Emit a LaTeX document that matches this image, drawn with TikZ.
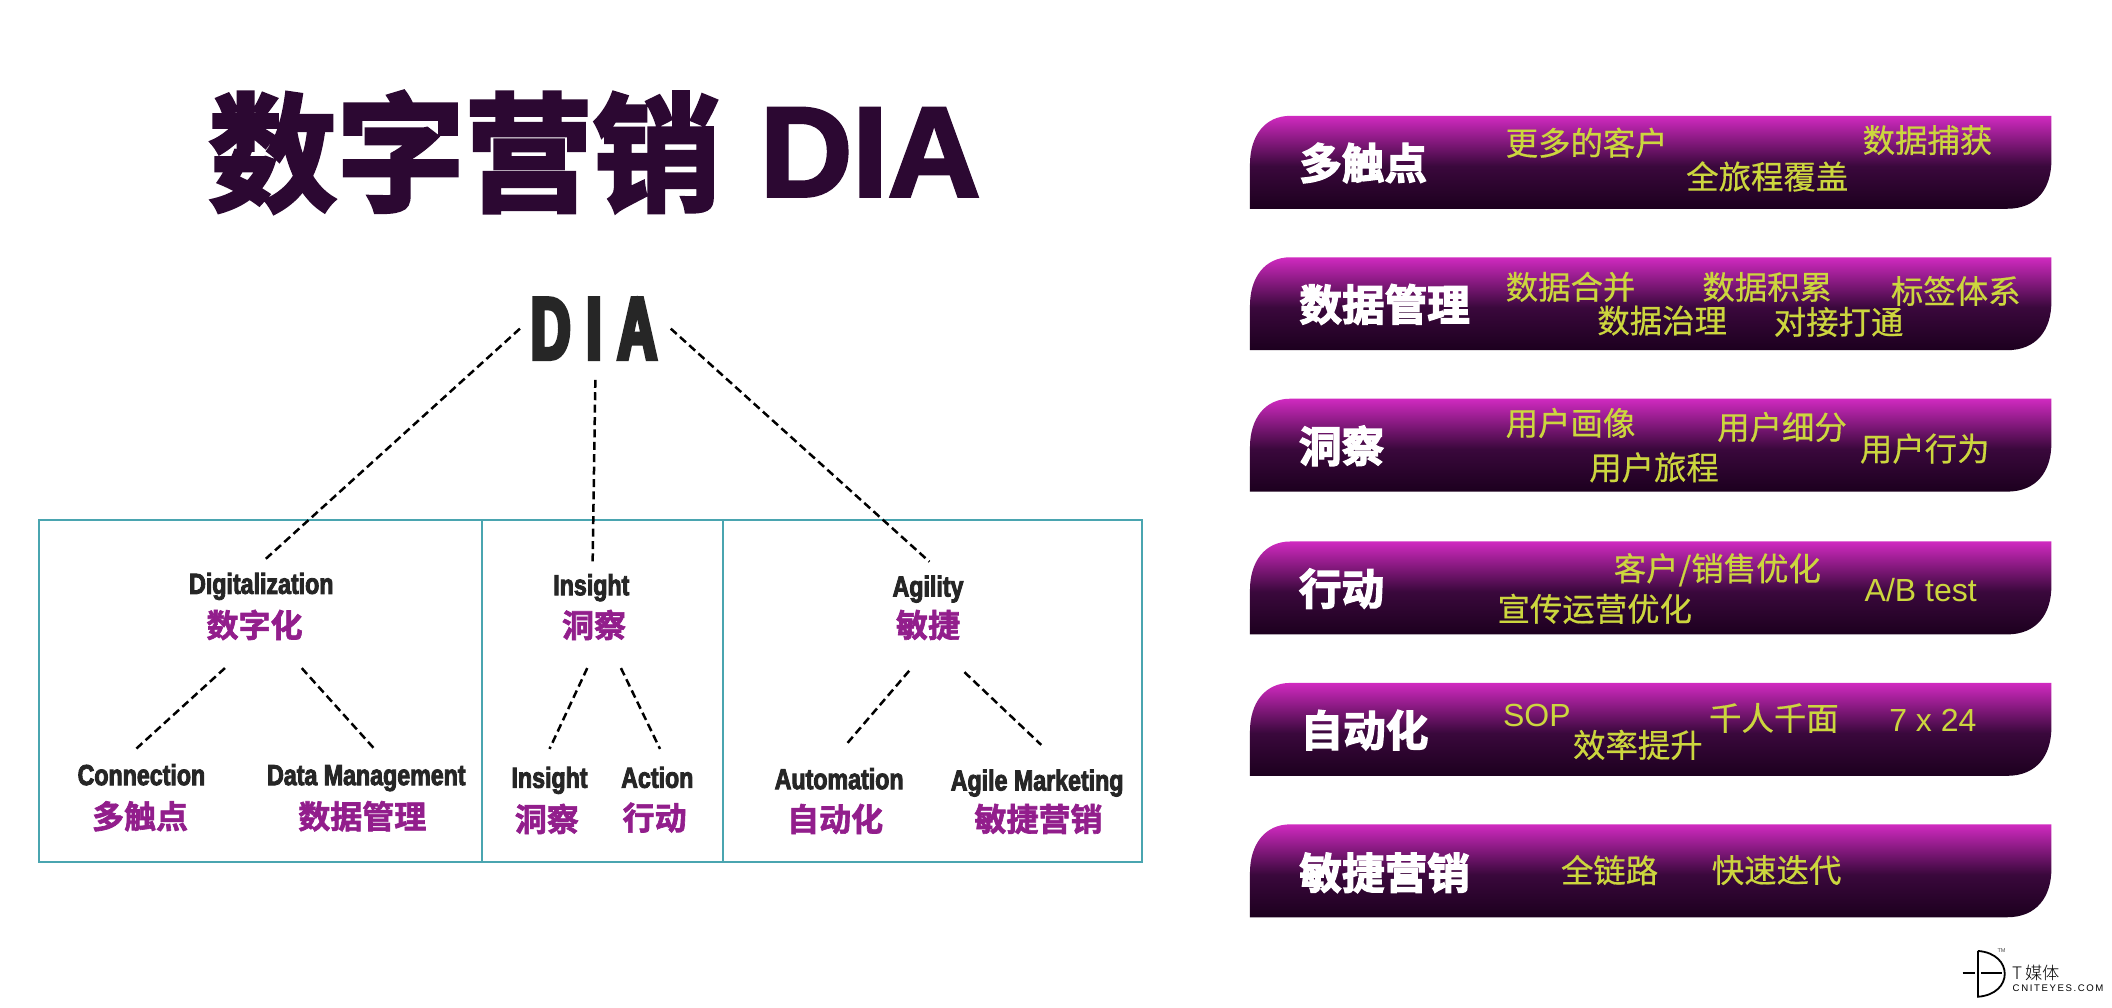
\documentclass[tikz,border=0pt]{standalone}
\usepackage{fontspec}
\newfontfamily\cjkreg[FakeBold=0.5]{Noto Sans CJK SC}
\newfontfamily\cjkthin{Noto Sans CJK SC Light}
\newfontfamily\cjkbold[FakeBold=2]{Noto Sans CJK SC Bold}
\newfontfamily\cjkheavy[FakeBold=3]{Noto Sans CJK SC Bold}
\newfontfamily\latinbold[FakeBold=2.5]{Liberation Sans Bold}
\newfontfamily\latinreg{Liberation Sans}
\newfontfamily\impactish[FakeStretch=0.8,FakeBold=3]{Liberation Sans Bold}
\newfontfamily\impactbig[FakeStretch=0.62,FakeBold=5]{Liberation Sans Bold}
\definecolor{titlepurple}{RGB}{44,8,50}
\definecolor{framecol}{RGB}{74,165,176}
\definecolor{labpurple}{RGB}{146,30,140}
\definecolor{itemyellow}{RGB}{204,214,62}
\definecolor{impactgray}{RGB}{38,38,38}
\definecolor{bartop}{RGB}{208,42,192}
\definecolor{barmid}{RGB}{58,8,60}
\definecolor{barbot}{RGB}{28,0,30}
\pgfdeclareverticalshading{barshade}{100bp}{
  color(0bp)=(barbot); color(25bp)=(barbot); color(48bp)=(barmid);
  color(75bp)=(bartop); color(100bp)=(bartop)}
\tikzset{
  x=0.67347pt,y=-0.67347pt,
  en/.style={inner sep=0pt,outer sep=0pt,text=impactgray,text height=13.6pt,text depth=3pt,font=\impactish\fontsize{14.5pt}{15pt}\selectfont},
  zh/.style={inner sep=0pt,outer sep=0pt,text=labpurple,font=\cjkbold\fontsize{16pt}{17pt}\selectfont},
  item/.style={inner sep=0pt,outer sep=0pt,text=itemyellow,font=\cjkreg\fontsize{16.2pt}{17pt}\selectfont},
  itemlat/.style={inner sep=0pt,outer sep=0pt,text=itemyellow,font=\latinreg\fontsize{16pt}{17pt}\selectfont},
  bartitle/.style={inner sep=0pt,outer sep=0pt,text=white,font=\cjkheavy\fontsize{21.3pt}{22pt}\selectfont},
  link/.style={draw=black,line width=1.25pt,dash pattern=on 4pt off 2.2pt},
  frame/.style={draw=framecol,line width=0.9pt},
}
\newcommand{\barshape}[1]{%
  \shade[shading=barshade] (928,#1+69) -- (928,#1+36)
    .. controls (928,#1+15) and (939,#1) .. (958,#1)
    -- (1523,#1) -- (1523,#1+33)
    .. controls (1523,#1+54) and (1512,#1+69) .. (1490,#1+69) -- cycle;}
\begin{document}
\begin{tikzpicture}
\useasboundingbox (0,0) rectangle (1568,748);
\fill[white] (0,0) rectangle (1568,748);
% title
\node[inner sep=0pt,text=titlepurple,font=\cjkheavy\fontsize{64pt}{65pt}\selectfont] (title) at (345,113) {数字营销};
\node[inner sep=0pt,text=titlepurple,font=\latinbold\fontsize{64pt}{65pt}\selectfont] (titlelat) at (646,113) {DIA};
% frames
\draw[frame] (29,386) rectangle (848,640);
\draw[frame] (358,386) -- (358,640);
\draw[frame] (537,386) -- (537,640);
% DIA
\node[inner sep=0pt,text=impactgray,font=\impactbig\fontsize{44pt}{45pt}\selectfont] (dia) at (441,244) {D\hspace{8pt}I\hspace{8pt}A};
% second level
\node[en] (dig) at (194,433) {Digitalization};
\node[zh] (digz) at (189,464) {数字化};
\node[en] (ins) at (439,434) {Insight};
\node[zh] (insz) at (441,464) {洞察};
\node[en] (agi) at (689,435) {Agility};
\node[zh] (agiz) at (689,464) {敏捷};
% third level
\node[en] (con) at (105,575) {Connection};
\node[zh] (conz) at (104,606) {多触点};
\node[en] (dat) at (272,575) {Data Management};
\node[zh] (datz) at (269,606) {数据管理};
\node[en] (ins2) at (408,577) {Insight};
\node[zh] (ins2z) at (406,608) {洞察};
\node[en] (act) at (488,577) {Action};
\node[zh] (actz) at (486,607) {行动};
\node[en] (aut) at (623,578) {Automation};
\node[zh] (autz) at (620,608) {自动化};
\node[en] (agm) at (770,579) {Agile Marketing};
\node[zh] (agmz) at (771,608) {敏捷营销};
% connector ends
\coordinate (d1) at (386,244); \coordinate (e1) at (195,417);
\coordinate (d2) at (442,282); \coordinate (e2) at (440,417);
\coordinate (d3) at (498,244); \coordinate (e3) at (690,417);
\coordinate (a1) at (167,496); \coordinate (b1) at (101,556);
\coordinate (a2) at (224,496); \coordinate (b2) at (278,556);
\coordinate (a3) at (436,496); \coordinate (b3) at (408,556);
\coordinate (a4) at (461,496); \coordinate (b4) at (490,556);
\coordinate (a5) at (675,498); \coordinate (b5) at (628,553);
\coordinate (a6) at (716,499); \coordinate (b6) at (773,553);
\foreach \p/\q in {d1/e1,d2/e2,d3/e3,a1/b1,a2/b2,a3/b3,a4/b4,a5/b5,a6/b6}
  \draw[link] (\p) -- (\q);
% bars
\barshape{86}\barshape{191}\barshape{296}\barshape{402}\barshape{507}\barshape{612}
\node[bartitle] (t1) at (1012,121) {多触点};
\node[bartitle] (t2) at (1028,226) {数据管理};
\node[bartitle] (t3) at (996,331) {洞察};
\node[bartitle] (t4) at (996,437) {行动};
\node[bartitle] (t5) at (1013,542) {自动化};
\node[bartitle] (t6) at (1028,648) {敏捷营销};
\node[item] (i11) at (1178,106) {更多的客户};
\node[item] (i12) at (1312,131) {全旅程覆盖};
\node[item] (i13) at (1431,104) {数据捕获};
\node[item] (i21) at (1166,213) {数据合并};
\node[item] (i22) at (1312,213) {数据积累};
\node[item] (i23) at (1452,216) {标签体系};
\node[item] (i24) at (1234,238) {数据治理};
\node[item] (i25) at (1365,239) {对接打通};
\node[item] (i31) at (1166,314) {用户画像};
\node[item] (i32) at (1323,317) {用户细分};
\node[item] (i33) at (1429,333) {用户行为};
\node[item] (i34) at (1228,347) {用户旅程};
\node[item] (i41) at (1275,423) {客户/销售优化};
\node[item] (i42) at (1184,452) {宣传运营优化};
\node[itemlat] (i43) at (1426,438) {A/B test};
\node[itemlat] (i51) at (1141,531) {SOP};
\node[item] (i52) at (1216,553) {效率提升};
\node[item] (i53) at (1317,533) {千人千面};
\node[itemlat] (i54) at (1435,535) {7 x 24};
\node[item] (i61) at (1195,646) {全链路};
\node[item] (i62) at (1319,646) {快速迭代};
% logo
\draw[black,line width=0.9pt] (1468.5,706) -- (1468.5,740) .. controls (1495,738) and (1495,708) .. (1468.5,706);
\draw[black,line width=0.9pt] (1457,722.5) -- (1466,722.5) (1471,722.5) -- (1486,722.5);
\node[inner sep=0pt,text=black!70,font=\latinreg\fontsize{2.8pt}{3pt}\selectfont] (tm) at (1486,705.5) {TM};
\node[inner sep=0pt,anchor=west,text=black,font=\cjkthin\fontsize{8.6pt}{10pt}\selectfont] (lg1) at (1494,722) {T\,媒体};
\node[inner sep=0pt,anchor=west,text=black,font=\latinreg\fontsize{4.8pt}{6pt}\selectfont] (lg2) at (1494,734) {C\,N\,I\,T\,E\,Y\,E\,S\,.\,C\,O\,M};
\end{tikzpicture}
\end{document}
